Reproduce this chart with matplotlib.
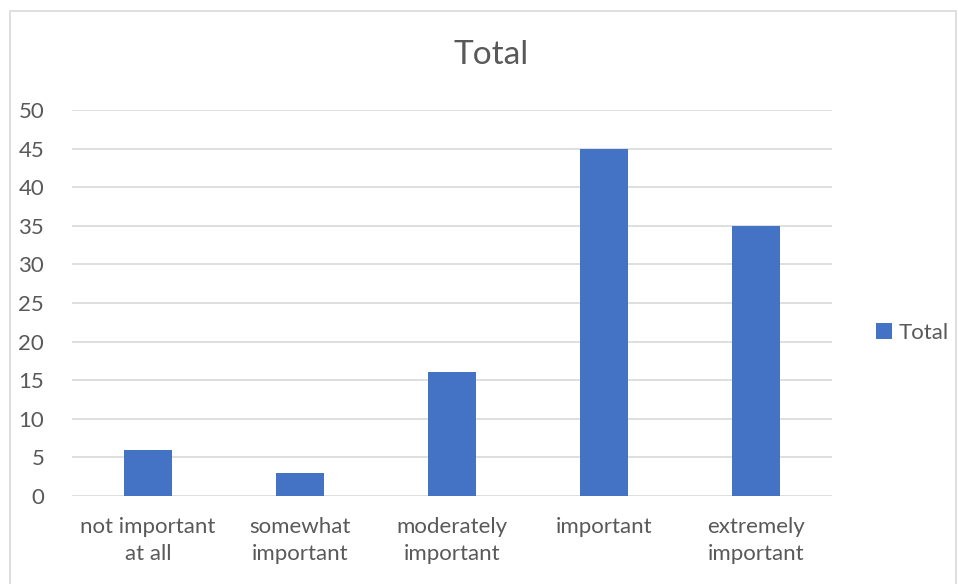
import matplotlib.pyplot as plt
from matplotlib.patches import Rectangle

categories = ["not important\nat all", "somewhat\nimportant", "moderately\nimportant",
              "important", "extremely\nimportant"]
totals = [6, 3, 16, 45, 35]
yticks = [0, 5, 10, 15, 20, 25, 30, 35, 40, 45, 50]

plt.rcParams['font.family'] = ['Lato', 'DejaVu Sans']
text_col = '#595959'
grid_col = '#d9d9d9'

fig = plt.figure(figsize=(9.58, 5.84), dpi=100)
fig.patches.append(Rectangle((10 / 958, -0.1), 946 / 958, 1.1 - 11 / 584,
                             transform=fig.transFigure, fill=False,
                             edgecolor=grid_col, linewidth=1.2))

ax = fig.add_axes([72 / 958, 1 - 496 / 584, 760 / 958, 386 / 584])
x = range(len(categories))
ax.bar(x, totals, width=0.316, color='#4472C4', label='Total', zorder=3)

ax.set_xlim(-0.5, 4.5)
ax.set_ylim(0, 50)
ax.set_yticks(yticks)
ax.set_xticks(list(x))
ax.set_xticklabels(categories, linespacing=1.45)
ax.tick_params(axis='both', length=0, labelsize=16, colors=text_col)
ax.tick_params(axis='y', pad=20)
ax.tick_params(axis='x', pad=15)
ax.grid(axis='y', color=grid_col, linewidth=1.2, zorder=0)
for s in ax.spines.values():
    s.set_visible(False)

# chart title is centred on the whole chart area, not the plot area
fig.text(491 / 958, 1 - 55 / 584, "Total", fontsize=24, color=text_col,
         ha='center', va='center')

leg = fig.legend(loc='center left', bbox_to_anchor=(856 / 958, 1 - 333 / 584),
                 frameon=False, fontsize=16, handlelength=0.7, handleheight=0.7,
                 handletextpad=0.3, labelcolor=text_col)

plt.savefig("out.png", dpi=100)
